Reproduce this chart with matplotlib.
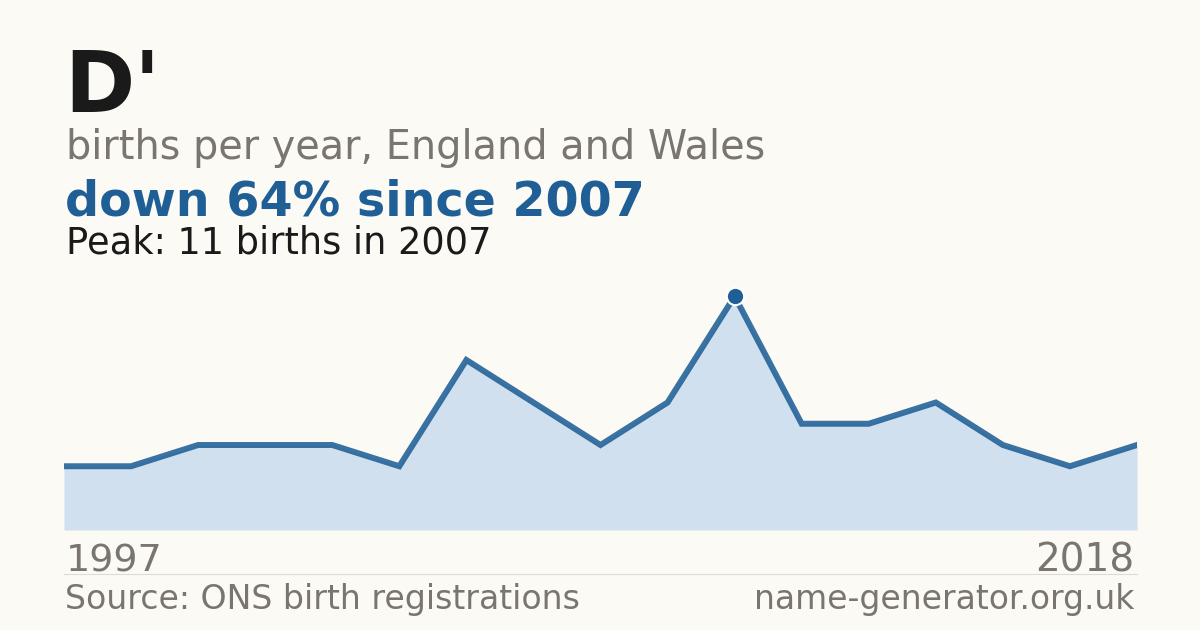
import matplotlib
matplotlib.use("Agg")
import matplotlib.pyplot as plt

plt.rcParams['font.family'] = ['DejaVu Sans']

name = "D'"
subtitle = "births per year, England and Wales"
headline = "down 64% since 2007"
peak_text = "Peak: 11 births in 2007"
source = "Source: ONS birth registrations"
site = "name-generator.org.uk"
first_year = "1997"
last_year = "2018"

births = [3, 3, 4, 4, 4, 3, 8, 6, 4, 6, 11, 5, 5, 6, 4, 3, 4]
peak_index = 10

BG = '#fbfaf5'
BLUE = '#1f5f96'
FILL = '#d0e0ef'
GRAY = '#7a756e'
DARK = '#1a1a1a'

W, H = 1200, 630
fig = plt.figure(figsize=(12, 6.3), dpi=100, facecolor=BG)
renderer = fig.canvas.get_renderer()

def fx(px):
    return px / W

def fy(py):
    return 1 - py / H

x = list(range(len(births)))
ax = fig.add_axes([fx(64), fy(530), fx(1137) - fx(64), fy(275) - fy(530)])
ax.set_facecolor(BG)
ax.fill_between(x, births, 0, color=FILL, lw=0, zorder=1)
ax.plot(x, births, color=BLUE, lw=4.3, solid_joinstyle='miter', zorder=2, alpha=0.88)
ax.plot([x[peak_index]], [births[peak_index]], 'o', ms=12.5, color=BLUE,
        mec='white', mew=1.5, zorder=3, clip_on=False)
ax.set_xlim(0, len(births) - 1)
ax.set_ylim(0, 12)
ax.axis('off')


def put(px, baseline, s, width, ha='left', **kw):
    t = fig.text(fx(px), fy(baseline), s, va='baseline', ha=ha, fontsize=20, **kw)
    w = t.get_window_extent(renderer).width
    t.set_fontsize(20 * width / w)
    return t


fig.text(fx(64), fy(112), name, va='baseline', fontsize=61, fontweight='bold', color=DARK)
put(65.5, 159.5, subtitle, 699, color=GRAY)
put(65, 215, headline, 580, fontweight='bold', color=BLUE)
put(66, 254, peak_text, 426, color=DARK)

put(66, 571, first_year, 97, color=GRAY)
put(1134, 571, last_year, 99, ha='right', color=GRAY)

fig.add_artist(plt.Line2D([fx(64), fx(1137)], [fy(573.5), fy(573.5)], color='#dedbd4', lw=0.8))

put(65, 609.5, source, 515, color=GRAY)
put(1134, 609.5, site, 381, ha='right', color=GRAY)

fig.savefig('out.png', dpi=100, facecolor=BG)
